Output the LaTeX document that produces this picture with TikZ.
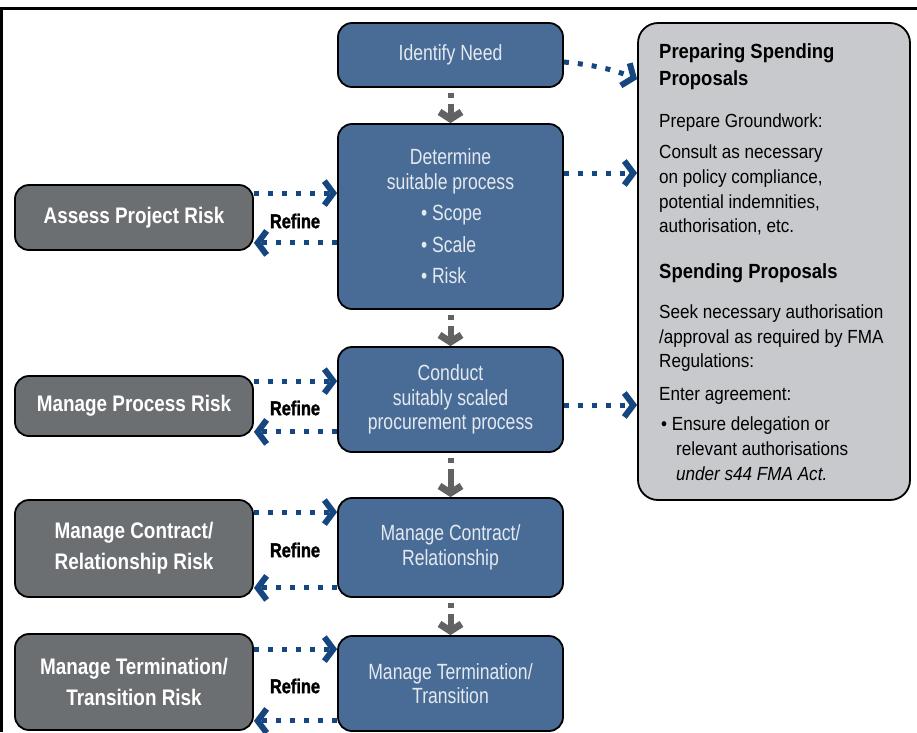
\documentclass[tikz,border=0pt]{standalone}
\usepackage{fontspec}
\setmainfont{Liberation Sans}
\newfontfamily\bluefont[FakeStretch=0.8]{Liberation Sans}
\newfontfamily\greyfont[FakeStretch=0.84]{Liberation Sans}
\newfontfamily\panelfont[FakeStretch=0.9]{Liberation Sans}
\newfontfamily\headfontfam[FakeStretch=0.9]{Liberation Sans}
\newfontfamily\refinefontfam[FakeStretch=0.82,FakeBold=1.5]{Liberation Sans}
\usetikzlibrary{arrows.meta,calc}
\definecolor{boxblue}{RGB}{72,108,150}
\definecolor{boxgrey}{RGB}{108,111,114}
\definecolor{panelgrey}{RGB}{200,201,204}
\definecolor{arrowblue}{RGB}{22,70,128}
\definecolor{arrowgrey}{RGB}{98,98,98}
\definecolor{bluetext}{RGB}{228,233,240}
\begin{document}
\begin{tikzpicture}[x=1pt,y=-1pt,
  bluebox/.style={draw=black, line width=1.8pt, fill=boxblue, rounded corners=14pt,
    minimum width=225pt, text=bluetext, align=center, inner sep=0pt,
    font=\bluefont\fontsize{22}{24.5}\selectfont},
  greybox/.style={draw=black, line width=1.8pt, fill=boxgrey, rounded corners=14pt,
    minimum width=238pt, text=white, align=center, inner sep=0pt,
    font=\greyfont\bfseries\fontsize{22.5}{31}\selectfont},
  panelbox/.style={draw=black, line width=1.8pt, fill=panelgrey, rounded corners=20pt,
    minimum width=272pt, minimum height=477pt, inner sep=0pt},
  ptext/.style={anchor=base west, inner sep=0pt, text=black,
    font=\panelfont\fontsize{19}{25}\selectfont},
  phead/.style={anchor=base west, inner sep=0pt, text=black,
    font=\headfontfam\bfseries\fontsize{20.5}{27}\selectfont},
  refine/.style={inner sep=0pt, text=black, font=\refinefontfam\bfseries\fontsize{20}{22}\selectfont},
  dotarr/.style={draw=arrowblue, line width=5pt, dash pattern=on 5pt off 9pt,
    -{Straight Barb[length=9pt,width=24pt,line width=6pt]}},
  greyarr/.style={draw=arrowgrey, line width=6pt,
    dash pattern=on 0pt off 5pt on 5pt off 6pt on 60pt,
    -{Straight Barb[length=7pt,width=22pt,line width=7pt]}},
  frame/.style={draw=black, line width=3pt}
]
\useasboundingbox (0,0) rectangle (917,732);
\fill[white] (0,0) rectangle (917,732);

% frame
\coordinate (fTL) at (1.2,8.5);
\coordinate (fTR) at (917,8.5);
\coordinate (fBL) at (1.2,732);
\draw[frame] (fTR) -- (fTL) -- (fBL);

% blue process boxes
\node[bluebox, minimum height=64pt] (IN) at (450.5,55) {Identify Need};
\node[bluebox, minimum height=185pt] (DS) at (450.5,216.5)
  {Determine\\suitable process\\[7pt]
   \makebox[59pt][l]{\textbullet\ Scope}\\[7pt]
   \makebox[59pt][l]{\textbullet\ Scale}\\[7pt]
   \makebox[59pt][l]{\textbullet\ Risk}};
\node[bluebox, minimum height=105pt] (CP) at (450.5,399.5)
  {Conduct\\suitably scaled\\procurement process};
\node[bluebox, minimum height=99pt] (MC) at (450.5,547.5)
  {Manage Contract/\\Relationship};
\node[bluebox, minimum height=95pt] (MT) at (450.5,683.5)
  {Manage Termination/\\Transition};

% grey risk boxes
\node[greybox, minimum height=65pt] (AP) at (134,217.5) {Assess Project Risk};
\node[greybox, minimum height=60pt] (MP) at (134,406) {Manage Process Risk};
\node[greybox, minimum height=97pt] (MCR) at (134,548.5) {Manage Contract/\\Relationship Risk};
\node[greybox, minimum height=96pt] (MTR) at (134,682) {Manage Termination/\\Transition Risk};

% right panel
\node[panelbox] (PN) at (774,261.5) {};
\node[phead] (p1) at (659,58) {Preparing Spending};
\node[phead] (p2) at (659,85) {Proposals};
\node[ptext] (p3) at (659,127) {Prepare Groundwork:};
\node[ptext] (p4) at (659,158) {Consult as necessary};
\node[ptext] (p5) at (659,183) {on policy compliance,};
\node[ptext] (p6) at (659,208) {potential indemnities,};
\node[ptext] (p7) at (659,232) {authorisation, etc.};
\node[phead] (p8) at (659,278) {Spending Proposals};
\node[ptext] (p9) at (659,318) {Seek necessary authorisation};
\node[ptext] (p10) at (659,343) {/approval as required by FMA};
\node[ptext] (p11) at (659,367) {Regulations:};
\node[ptext] (p12) at (659,400) {Enter agreement:};
\node[ptext] (p13) at (661,430) {\textbullet\ Ensure delegation or};
\node[ptext] (p14) at (676,455) {relevant authorisations};
\node[ptext] (p15) at (676,480) {\itshape under s44 FMA Act.};

% grey down arrows
\draw[greyarr] (IN.south) -- (DS.north);
\draw[greyarr] (DS.south) -- (CP.north);
\draw[greyarr] (CP.south) -- (MC.north);
\draw[greyarr] (MC.south) -- (MT.north);

% refine loops
\coordinate (a1) at ([yshift=-9pt]AP.north east);
\coordinate (a2) at ([yshift=8pt]AP.south east);
\draw[dotarr] (a1) -- (a1 -| DS.west);
\draw[dotarr] (a2 -| DS.west) -- (a2);
\node[refine] (r1) at (295,221) {Refine};

\coordinate (b1) at ([yshift=-6pt]MP.north east);
\coordinate (b2) at ([yshift=5pt]MP.south east);
\draw[dotarr] (b1) -- (b1 -| CP.west);
\draw[dotarr] (b2 -| CP.west) -- (b2);
\node[refine] (r2) at (295,408) {Refine};

\coordinate (c1) at ([yshift=-13pt]MCR.north east);
\coordinate (c2) at ([yshift=10pt]MCR.south east);
\draw[dotarr] (c1) -- (c1 -| MC.west);
\draw[dotarr] (c2 -| MC.west) -- (c2);
\node[refine] (r3) at (295,550) {Refine};

\coordinate (d1) at ([yshift=-16pt]MTR.north east);
\coordinate (d2) at ([yshift=10pt]MTR.south east);
\draw[dotarr] (d1) -- (d1 -| MT.west);
\draw[dotarr] (d2 -| MT.west) -- (d2);
\node[refine] (r4) at (295,686) {Refine};

% arrows to the panel
\coordinate (e1s) at ([yshift=-7pt]IN.east);
\coordinate (e1e) at ([yshift=-57pt]PN.north west);
\draw[dotarr] (e1s) .. controls +(30,3) and +(-25,-10) .. (e1e);
\coordinate (e2s) at ([yshift=43.5pt]DS.east);
\draw[dotarr] (e2s) -- (e2s -| PN.west);
\coordinate (e3s) at ([yshift=-5.5pt]CP.east);
\draw[dotarr] (e3s) -- (e3s -| PN.west);
\end{tikzpicture}
\end{document}
